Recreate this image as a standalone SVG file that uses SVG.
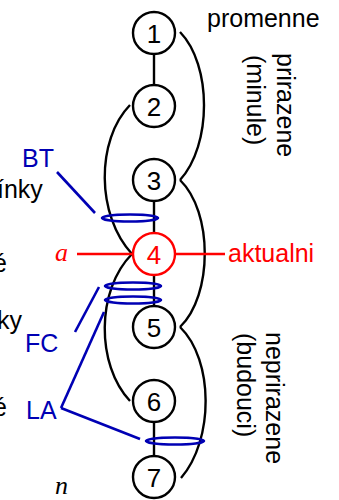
<svg xmlns="http://www.w3.org/2000/svg" width="339" height="500" viewBox="0 0 339 500">
<style>
.t{font-family:"Liberation Sans",Arial,sans-serif;font-size:25px;fill:#000}
.d{font-family:"Liberation Sans",Arial,sans-serif;font-size:26px;text-anchor:middle}
.blue{fill:#0000b4}
.red{fill:#ff0000}
.m{font-family:"Liberation Serif","Times New Roman",serif;font-style:italic;font-size:26px}
.n{fill:#fff;stroke:#000;stroke-width:2.4}
.c{fill:none;stroke:#000;stroke-width:2.4}
.b{fill:none;stroke:#0000b4;stroke-width:2.6}
.r{fill:none;stroke:#ff0000;stroke-width:2.4}
</style>
<rect width="339" height="500" fill="#fff"/>
<g id="labels-left">
<text class="t" x="-3" y="198">ínky</text>
<text class="t" x="-7" y="272">é</text>
<text class="t" x="-3" y="329">ky</text>
<text class="t" x="-7" y="416">é</text>
</g>
<g id="connectors">
<line class="c" x1="154" y1="53" x2="154" y2="86"/>
<line class="c" x1="154" y1="200" x2="154" y2="234"/>
<line class="c" x1="154" y1="274" x2="154" y2="307"/>
<line class="c" x1="154" y1="421" x2="154" y2="457"/>
<path class="c" d="M180,32 C212,65 212,145 180,180"/>
<path class="c" d="M180,180 C213,212 213,295 180,327"/>
<path class="c" d="M180,327 C214,360 214,440 181,478"/>
<path class="c" d="M130,105 C96,140 96,215 132,254"/>
<path class="c" d="M132,254 C96,290 96,365 130,401"/>
<line class="r" x1="77" y1="254" x2="134" y2="254"/>
<line class="r" x1="174" y1="254" x2="225" y2="254"/>
</g>
<g id="n1"><circle class="n" cx="154" cy="33" r="21"/><text class="d" x="154" y="42.5">1</text></g>
<g id="n2"><circle class="n" cx="154" cy="106" r="21"/><text class="d" x="154" y="115.5">2</text></g>
<g id="n3"><circle class="n" cx="154" cy="180" r="21"/><text class="d" x="154" y="189.5">3</text></g>
<g id="n4"><circle class="n" cx="154" cy="254" r="21" style="stroke:#ff0000"/><text class="d red" x="154" y="263.5">4</text></g>
<g id="n5"><circle class="n" cx="154" cy="327" r="21"/><text class="d" x="154" y="336.5">5</text></g>
<g id="n6"><circle class="n" cx="154" cy="401" r="21"/><text class="d" x="154" y="410.5">6</text></g>
<g id="n7"><circle class="n" cx="154" cy="477" r="21"/><text class="d" x="154" y="486.5">7</text></g>
<g id="markers">
<ellipse class="b" cx="130" cy="218" rx="28" ry="3.5"/>
<ellipse class="b" cx="133" cy="286" rx="28" ry="3.5"/>
<ellipse class="b" cx="133" cy="300" rx="28" ry="3.5"/>
<ellipse class="b" cx="175" cy="441" rx="29" ry="3.5"/>
<line class="b" x1="57" y1="172" x2="95" y2="213"/>
<line class="b" x1="99" y1="287" x2="75" y2="332"/>
<line class="b" x1="104" y1="312" x2="61" y2="408"/>
<line class="b" x1="61" y1="408" x2="140" y2="439"/>
</g>
<g id="labels">
<text class="t blue" x="22" y="167">BT</text>
<text class="t blue" x="25" y="352">FC</text>
<text class="t blue" x="26" y="419">LA</text>
<text class="m red" x="55" y="261">a</text>
<text class="m" x="55" y="494">n</text>
<text class="t red" x="228" y="262">aktualni</text>
<text class="t" x="207" y="27">promenne</text>
<text class="t" transform="translate(277,53) rotate(90)">prirazene</text>
<text class="t" transform="translate(247,55) rotate(90)">(minule)</text>
<text class="t" transform="translate(266,332) rotate(90)">neprirazene</text>
<text class="t" transform="translate(237,333) rotate(90)">(budouci)</text>
</g>
</svg>
